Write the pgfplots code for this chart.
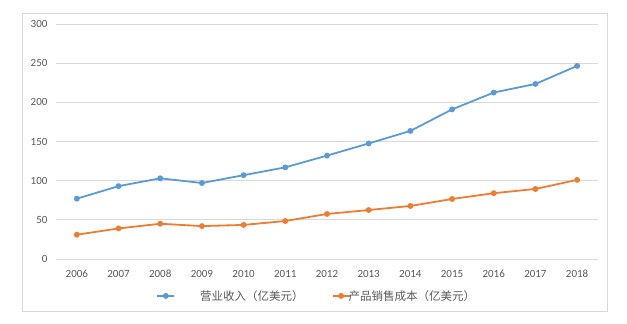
\documentclass[border=0pt]{standalone}
\usepackage{fontspec}
\setmainfont{Carlito}
\newfontfamily\cjk{Noto Sans CJK SC}
\usepackage{pgfplots}
\pgfplotsset{compat=1.18}
\definecolor{blueline}{HTML}{5B9BD5}
\definecolor{orangeline}{HTML}{ED7D31}
\definecolor{gridc}{HTML}{D9D9D9}
\definecolor{txt}{HTML}{595959}
\begin{document}
\begin{tikzpicture}[x=1pt,y=1pt]
\fill[white] (0,0) rectangle (627,324);
\draw[gridc, line width=0.8pt] (22,13) rectangle (607,311);
\begin{axis}[at={(56pt,65pt)}, anchor=south west, scale only axis,
  width=542pt, height=235pt,
  xmin=2005.5, xmax=2018.5, ymin=0, ymax=300,
  xtick={2006,...,2018}, ytick={0,50,...,300},
  ymajorgrids, grid style={gridc, line width=0.8pt},
  axis line style={draw=none}, major tick length=0pt,
  /pgf/number format/assume math mode=true,
  /pgf/number format/1000 sep={},
  tick label style={font=\fontsize{11}{13}\selectfont, text=txt},
  yticklabel style={xshift=-5pt},
  xticklabel style={yshift=-7pt, text height=8pt, text depth=0pt},
  legend style={at={(0.481,-0.157)}, anchor=center, draw=none, fill=none,
    legend columns=2, font=\cjk\fontsize{11.5}{13}\selectfont, text=txt,
    /tikz/every even column/.append style={column sep=26pt}},
  clip=false]
\addplot[blueline, line width=1.8pt, mark=*, mark size=2pt] coordinates {
(2006,77) (2007,93) (2008,103) (2009,97) (2010,107) (2011,117) (2012,132)
(2013,147.5) (2014,163.5) (2015,191) (2016,212.5) (2017,223.5) (2018,246.5)};
\addlegendentry{\hspace{23pt}营业收入（亿美元）}
\addplot[orangeline, line width=1.8pt, mark=*, mark size=2pt] coordinates {
(2006,31) (2007,39) (2008,45) (2009,42) (2010,43.5) (2011,48.5) (2012,57.5)
(2013,62.5) (2014,67.7) (2015,76.6) (2016,84) (2017,89.4) (2018,101)};
\addlegendentry{\hspace{-4pt}产品销售成本（亿美元）}
\end{axis}
\end{tikzpicture}
\end{document}
